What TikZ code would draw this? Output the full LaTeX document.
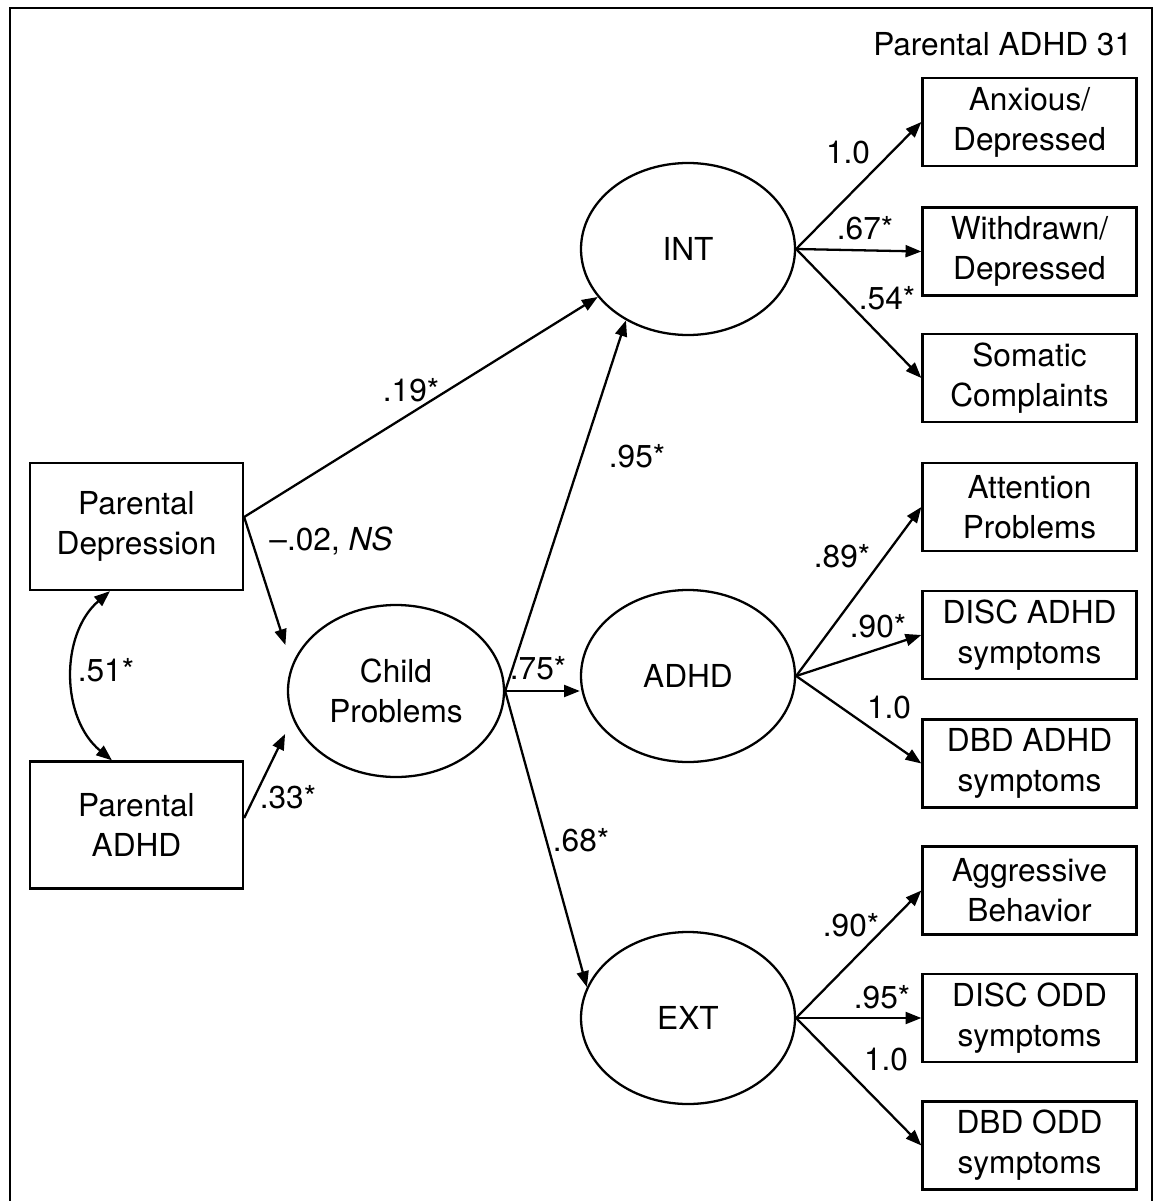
\documentclass[tikz,border=0pt]{standalone}
\usepackage{fontspec}
\setmainfont{TeX Gyre Heros}
\usetikzlibrary{arrows.meta,shapes.geometric}

\tikzset{
  >={Triangle[length=4.5pt,width=3.4pt]},
  obs/.style={draw, minimum width=2.14cm, minimum height=0.88cm, align=center, inner sep=1pt},
  lat/.style={draw, ellipse, minimum width=2.14cm, minimum height=1.72cm, inner sep=0pt, align=center},
  arr/.style={->},
}

\begin{document}
\begin{tikzpicture}[x=1cm,y=-1cm,line width=0.65pt,font=\fontsize{9pt}{11.4pt}\selectfont]
    \useasboundingbox (0,0) rectangle (11.57,12.01);
    \draw (0.10,12.01) -- (0.10,0.08) -- (11.52,0.08) -- (11.52,12.01);
    \node[anchor=east] (title) at (11.45,0.44) {Parental ADHD 31};

    % left side
    \node[obs, minimum width=2.13cm, minimum height=1.27cm] (pd) at (1.365,5.265) {Parental\\Depression};
    \node[obs, minimum width=2.13cm, minimum height=1.27cm] (pa) at (1.365,8.25) {Parental\\ADHD};
    \node[lat, minimum width=2.16cm] (cp) at (3.96,6.91) {Child\\Problems};

    % latent factors
    \node[lat] (int) at (6.88,2.49) {INT};
    \node[lat] (adhd) at (6.88,6.76) {ADHD};
    \node[lat] (ext) at (6.88,10.18) {EXT};

    % indicators
    \def\xr{10.295}
    \node[obs] (anx) at (\xr,1.22) {Anxious/\\Depressed};
    \node[obs] (wd) at (\xr,2.515) {Withdrawn/\\Depressed};
    \node[obs] (som) at (\xr,3.78) {Somatic\\Complaints};
    \node[obs] (att) at (\xr,5.07) {Attention\\Problems};
    \node[obs] (dadhd) at (\xr,6.35) {DISC ADHD\\symptoms};
    \node[obs] (badhd) at (\xr,7.635) {DBD ADHD\\symptoms};
    \node[obs] (agg) at (\xr,8.905) {Aggressive\\Behavior};
    \node[obs] (dodd) at (\xr,10.18) {DISC ODD\\symptoms};
    \node[obs] (bodd) at (\xr,11.455) {DBD ODD\\symptoms};

    \coordinate (pdout) at ([yshift=0.095cm]pd.east);
    \coordinate (paout) at ([yshift=0.07cm]pa.east);
    \coordinate (pdlow) at ([xshift=-0.265cm]pd.south);
    \coordinate (pahigh) at ([xshift=-0.245cm]pa.north);

    \draw[<->] (pdlow) to[bend right=50] (pahigh);
    \draw[arr] (pdout) -- (int.208);
    \draw[arr, shorten >=0.21cm] (pdout) -- (cp.166);
    \draw[arr, shorten >=0.17cm] (paout) -- (cp.195);
    \draw[arr] (cp.east) -- (int.229);
    \draw[arr] (cp.east) -- (cp.east -| adhd.west);
    \draw[arr] (cp.east) -- (ext.163);

    \draw[arr] (int.east) -- (anx.west);
    \draw[arr] (int.east) -- (wd.west);
    \draw[arr] (int.east) -- (som.west);
    \draw[arr] (adhd.east) -- (att.west);
    \draw[arr] (adhd.east) -- (dadhd.west);
    \draw[arr] (adhd.east) -- (badhd.west);
    \draw[arr] (ext.east) -- (agg.west);
    \draw[arr] (ext.east) -- (dodd.west);
    \draw[arr] (ext.east) -- (bodd.west);

    % coefficients
    \node (l51) at (1.06,6.70) {.51*};
    \node (l19) at (4.11,3.90) {.19*};
    \node (l02) at (3.31,5.41) {--.02, \textit{NS}};
    \node (l33) at (2.88,7.97) {.33*};
    \node (l95) at (6.37,4.56) {.95*};
    \node (l75) at (5.38,6.68) {.75*};
    \node (l68) at (5.81,8.40) {.68*};
    \node (li1) at (8.48,1.53) {1.0};
    \node (li2) at (8.65,2.28) {.67*};
    \node (li3) at (8.87,2.98) {.54*};
    \node (la1) at (8.42,5.56) {.89*};
    \node (la2) at (8.78,6.26) {.90*};
    \node (la3) at (8.89,7.08) {1.0};
    \node (le1) at (8.51,9.25) {.90*};
    \node (le2) at (8.82,9.97) {.95*};
    \node (le3) at (8.86,10.60) {1.0};
\end{tikzpicture}
\end{document}
